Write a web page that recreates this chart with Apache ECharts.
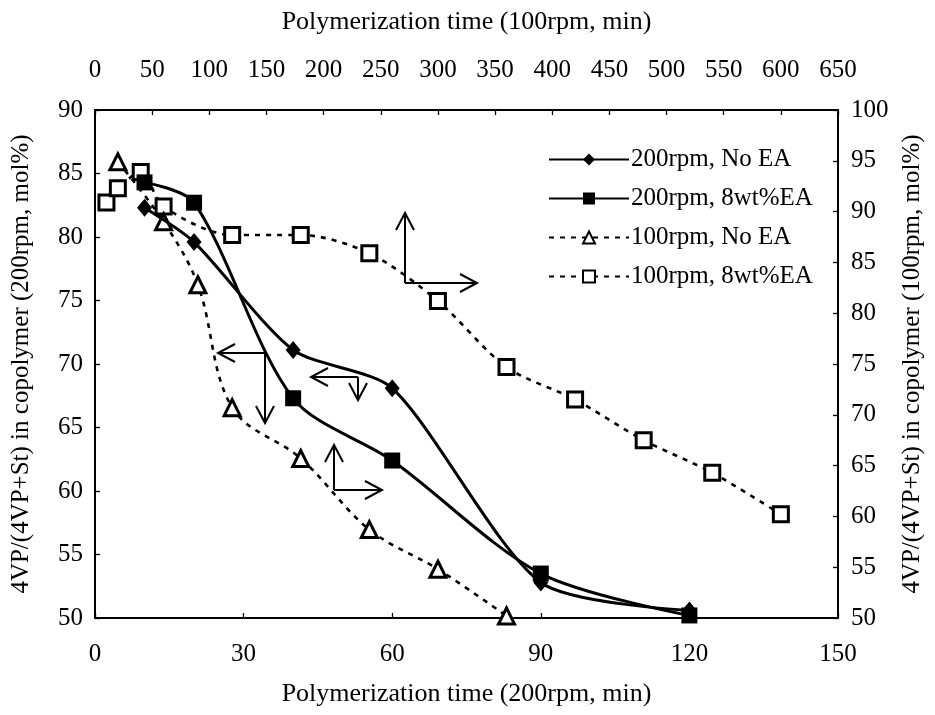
<!DOCTYPE html>
<html>
<head>
<meta charset="utf-8">
<script src="https://cdn.jsdelivr.net/npm/echarts@6/dist/echarts.min.js"></script>
<style>
html,body{margin:0;padding:0;background:#fff;}
#chart{width:935px;height:715px;}
</style>
</head>
<body>
<div id="chart"></div>
<script>
// ---- data ----
const t200 = [10, 20, 40, 60, 90, 120];
const noEA200 = [82.3, 79.6, 71.1, 68.1, 52.8, 50.6];
const ea200 = [84.3, 82.7, 67.3, 62.4, 53.5, 50.2];
const t100NoEA = [20, 60, 90, 120, 180, 240, 300, 360];
const noEA100 = [94.9, 89.0, 82.8, 70.7, 65.7, 58.7, 54.8, 50.2];
const t100EA = [10, 20, 40, 60, 120, 180, 240, 300, 360, 420, 480, 540, 600];
const ea100 = [90.9, 92.3, 93.9, 90.5, 87.7, 87.7, 85.9, 81.2, 74.7, 71.5, 67.5, 64.3, 60.2];
const seriesNames = ['200rpm, No EA', '200rpm, 8wt%EA', '100rpm, No EA', '100rpm, 8wt%EA'];
const axisNames = {
  bottom: 'Polymerization time (200rpm, min)',
  top: 'Polymerization time (100rpm, min)',
  left: '4VP/(4VP+St) in copolymer (200rpm, mol%)',
  right: '4VP/(4VP+St) in copolymer (100rpm, mol%)'
};

const pair = (xs, ys) => xs.map((x, i) => [x, ys[i]]);
const FONT = 'Liberation Serif';
const tickFont = { fontFamily: FONT, fontSize: 25, color: '#000' };
const hNameFont = { fontFamily: FONT, fontSize: 26, color: '#000' };
const vNameFont = { fontFamily: FONT, fontSize: 25, color: '#000' };
const axLine = { show: true, onZero: false, lineStyle: { color: '#000', width: 2 } };
const axTick = { show: true, inside: true, length: 5, lineStyle: { color: '#000', width: 1.3 } };

const chart = echarts.init(document.getElementById('chart'), null, { renderer: 'canvas' });

// guide arrows (annotations, pixel positions)
function arrow(cx, cy, tx, ty) {
  const dx = tx - cx, dy = ty - cy;
  const len = Math.hypot(dx, dy);
  const ux = dx / len, uy = dy / len;
  const L = 17, W = 9;
  const bx = tx - ux * L, by = ty - uy * L;
  const px = -uy, py = ux;
  return [
    { type: 'line', shape: { x1: cx, y1: cy, x2: tx, y2: ty }, style: { stroke: '#000', lineWidth: 2 } },
    { type: 'polyline', shape: { points: [[bx + px * W, by + py * W], [tx, ty], [bx - px * W, by - py * W]] }, style: { stroke: '#000', lineWidth: 2, fill: null } }
  ];
}
const arrows = [].concat(
  arrow(405, 283, 405, 213), arrow(405, 283, 477, 283),
  arrow(265, 353, 218, 353), arrow(265, 353, 265, 423),
  arrow(358, 377, 311, 377), arrow(358, 377, 358, 400),
  arrow(334, 490, 334, 445), arrow(334, 490, 382, 490)
);

const option = {
  backgroundColor: '#fff',
  animation: false,
  grid: { left: 95, right: 97, top: 110, bottom: 97, containLabel: false },
  legend: {
    orient: 'vertical',
    left: 543,
    top: 142,
    itemWidth: 80,
    itemHeight: 15,
    itemGap: 14,
    textStyle: { fontFamily: FONT, fontSize: 25, color: '#000', padding: [0, 0, 0, -3] },
    data: seriesNames
  },
  xAxis: [
    {
      type: 'value', position: 'bottom', min: 0, max: 150, interval: 30,
      name: axisNames.bottom, nameLocation: 'middle', nameGap: 63, nameTextStyle: hNameFont,
      axisLine: axLine, axisTick: axTick, splitLine: { show: false },
      axisLabel: Object.assign({ margin: 24 }, tickFont)
    },
    {
      type: 'value', position: 'top', min: 0, max: 650, interval: 50,
      name: axisNames.top, nameLocation: 'middle', nameGap: 75, nameTextStyle: hNameFont,
      axisLine: axLine, axisTick: axTick, splitLine: { show: false },
      axisLabel: Object.assign({ margin: 27 }, tickFont)
    }
  ],
  yAxis: [
    {
      type: 'value', position: 'left', min: 50, max: 90, interval: 5,
      name: axisNames.left, nameLocation: 'middle', nameGap: 61, nameTextStyle: vNameFont,
      axisLine: axLine, axisTick: axTick, splitLine: { show: false },
      axisLabel: Object.assign({ margin: 12 }, tickFont)
    },
    {
      type: 'value', position: 'right', min: 50, max: 100, interval: 5,
      name: axisNames.right, nameLocation: 'middle', nameGap: 62, nameTextStyle: vNameFont,
      axisLine: axLine, axisTick: axTick, splitLine: { show: false },
      axisLabel: Object.assign({ margin: 13 }, tickFont)
    }
  ],
  series: [
    {
      name: seriesNames[3], type: 'line', xAxisIndex: 1, yAxisIndex: 1,
      data: pair(t100EA, ea100), smooth: 0.3,
      symbol: 'rect', symbolSize: 15,
      lineStyle: { color: '#000', width: 2.6, type: [5, 6] },
      itemStyle: { color: '#fff', borderColor: '#000', borderWidth: 3 },
      z: 2
    },
    {
      name: seriesNames[2], type: 'line', xAxisIndex: 1, yAxisIndex: 1,
      data: pair(t100NoEA, noEA100), smooth: 0.35,
      symbol: 'triangle', symbolSize: 16,
      lineStyle: { color: '#000', width: 2.6, type: [5, 6] },
      itemStyle: { color: '#fff', borderColor: '#000', borderWidth: 3 },
      z: 3
    },
    {
      name: seriesNames[1], type: 'line', xAxisIndex: 0, yAxisIndex: 0,
      data: pair(t200, ea200), smooth: 0.3,
      symbol: 'rect', symbolSize: 16,
      lineStyle: { color: '#000', width: 3 },
      itemStyle: { color: '#000', borderColor: '#000', borderWidth: 0 },
      z: 4
    },
    {
      name: seriesNames[0], type: 'line', xAxisIndex: 0, yAxisIndex: 0,
      data: pair(t200, noEA200), smooth: 0.25,
      symbol: 'diamond', symbolSize: [15, 18],
      lineStyle: { color: '#000', width: 3 },
      itemStyle: { color: '#000', borderColor: '#000', borderWidth: 0 },
      z: 5
    }
  ],
  graphic: arrows
};
chart.setOption(option);
</script>
</body>
</html>
